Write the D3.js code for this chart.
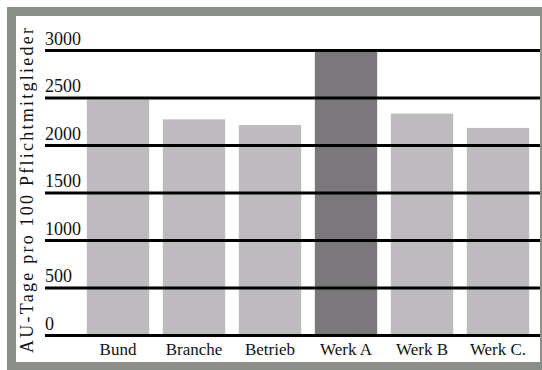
<!DOCTYPE html>
<html>
<head>
<meta charset="utf-8">
<script src="https://cdn.jsdelivr.net/npm/d3@7/dist/d3.min.js"></script>
<style>
  html, body { margin: 0; padding: 0; background: #ffffff; }
  svg { display: block; }
</style>
</head>
<body>
<svg id="chart" width="542" height="370"></svg>
<script>
// Arbeitsunfähigkeitstage je 100 Pflichtmitglieder
const categories = ["Bund", "Branche", "Betrieb", "Werk A", "Werk B", "Werk C."];
const values = [2480, 2270, 2210, 3000, 2330, 2180];
const highlight = ["Werk A"];
const tickValues = [0, 500, 1000, 1500, 2000, 2500, 3000];
const yLabel = "AU-Tage pro 100 Pflichtmitglieder";

const serif = "Liberation Serif";
const svg = d3.select("#chart");

// frame
svg.append("rect")
  .attr("x", 11.5).attr("y", 11.5)
  .attr("width", 533).attr("height", 355)
  .attr("fill", "#ffffff")
  .attr("stroke", "#8c8e8a")
  .attr("stroke-width", 9);

const x = d3.scaleBand()
  .domain(categories)
  .range([80, 536])
  .paddingInner(0.18)
  .paddingOuter(0.09);

const y = d3.scaleLinear()
  .domain([0, 3000])
  .range([335, 50]);

// bars
svg.append("g")
  .selectAll("rect")
  .data(categories)
  .join("rect")
  .attr("x", d => x(d))
  .attr("width", x.bandwidth())
  .attr("y", (d, i) => y(values[i]))
  .attr("height", (d, i) => y(0) - y(values[i]))
  .attr("fill", d => highlight.includes(d) ? "#7b787b" : "#bdbbbe");

// horizontal grid lines drawn over the bars
const yAxis = d3.axisLeft(y)
  .tickValues(tickValues)
  .tickSize(-(540 - 45))
  .tickFormat(d3.format("d"));

const gy = svg.append("g")
  .attr("transform", "translate(45,0)")
  .call(yAxis)
  .attr("font-family", serif)
  .attr("font-size", 18);
gy.select(".domain").remove();
gy.selectAll(".tick line")
  .attr("stroke", "#000")
  .attr("stroke-width", 3.2);
gy.selectAll(".tick text")
  .attr("x", 0)
  .attr("dy", "-6px")
  .attr("text-anchor", "start")
  .attr("fill", "#111");

// category labels
const xAxis = d3.axisBottom(x).tickSize(0).tickPadding(0);
const gx = svg.append("g")
  .attr("transform", "translate(0,337)")
  .call(xAxis)
  .attr("font-family", serif)
  .attr("font-size", 17);
gx.select(".domain").remove();
gx.selectAll(".tick text")
  .attr("y", 18)
  .attr("dy", 0)
  .attr("fill", "#111");

// y axis title
svg.append("text")
  .attr("transform", "translate(33,190.5) rotate(-90)")
  .attr("text-anchor", "middle")
  .attr("textLength", 325)
  .attr("lengthAdjust", "spacing")
  .attr("font-family", serif)
  .attr("font-size", 18)
  .attr("fill", "#111")
  .text(yLabel);
</script>
</body>
</html>
